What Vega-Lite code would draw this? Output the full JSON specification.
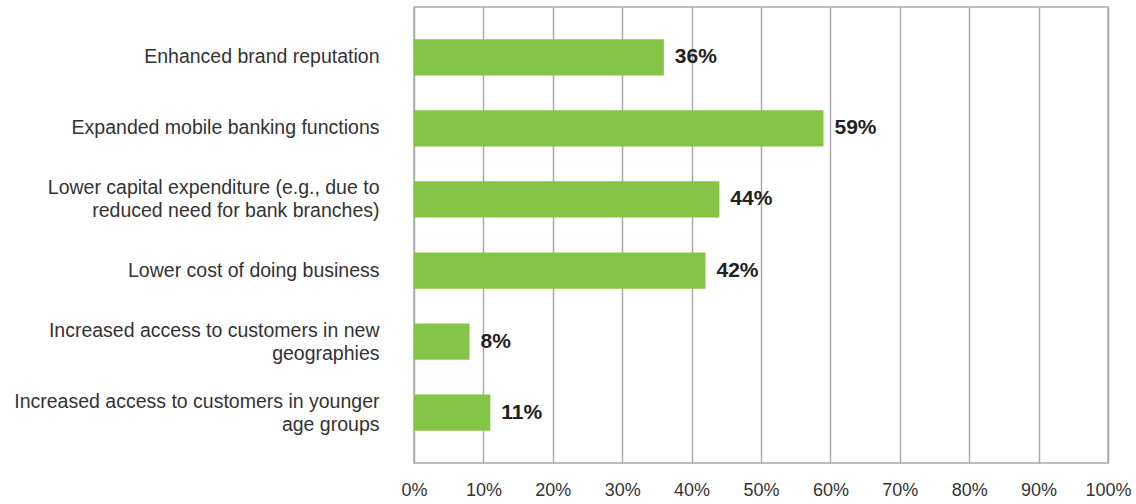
{
  "$schema": "https://vega.github.io/schema/vega-lite/v6.json",
  "width": 694,
  "height": 456,
  "autosize": "none",
  "padding": {"left": 414, "top": 7, "right": 28, "bottom": 41},
  "config": {
    "view": {"stroke": "#aaaaad", "strokeWidth": 1.5},
    "font": "Liberation Sans"
  },
  "data": {
    "values": [
      {"label": "Enhanced brand reputation", "value": 0.36},
      {"label": "Expanded mobile banking functions", "value": 0.59},
      {"label": "Lower capital expenditure (e.g., due to|reduced need for bank branches)", "value": 0.44},
      {"label": "Lower cost of doing business", "value": 0.42},
      {"label": "Increased access to customers in new|geographies", "value": 0.08},
      {"label": "Increased access to customers in younger|age groups", "value": 0.11}
    ]
  },
  "encoding": {
    "y": {
      "field": "label",
      "type": "nominal",
      "sort": null,
      "scale": {"paddingInner": 0.49, "paddingOuter": 0.455},
      "axis": {
        "title": null,
        "domain": false,
        "ticks": false,
        "labelPadding": 35,
        "labelFontSize": 19.5,
        "labelColor": "#333333",
        "labelLineHeight": 23,
        "labelLimit": 420,
        "labelOffset": {"condition": {"test": "indexof(datum.value, '|') >= 0", "value": -11}, "value": 0},
        "labelExpr": "split(datum.value, '|')"
      }
    },
    "x": {
      "field": "value",
      "type": "quantitative",
      "scale": {"domain": [0, 1]},
      "axis": {
        "title": null,
        "values": [0, 0.1, 0.2, 0.3, 0.4, 0.5, 0.6, 0.7, 0.8, 0.9, 1],
        "format": ".0%",
        "domain": false,
        "ticks": false,
        "grid": true,
        "gridColor": "#aaaaad",
        "gridWidth": 1.5,
        "labelPadding": 18,
        "labelFontSize": 18,
        "labelColor": "#333333",
        "labelFlush": false
      }
    }
  },
  "layer": [
    {"mark": {"type": "bar", "color": "#84c446"}},
    {
      "mark": {"type": "text", "align": "left", "dx": 11, "fontSize": 21, "fontWeight": "bold", "color": "#222222"},
      "encoding": {"text": {"field": "value", "type": "quantitative", "format": ".0%"}}
    }
  ]
}
